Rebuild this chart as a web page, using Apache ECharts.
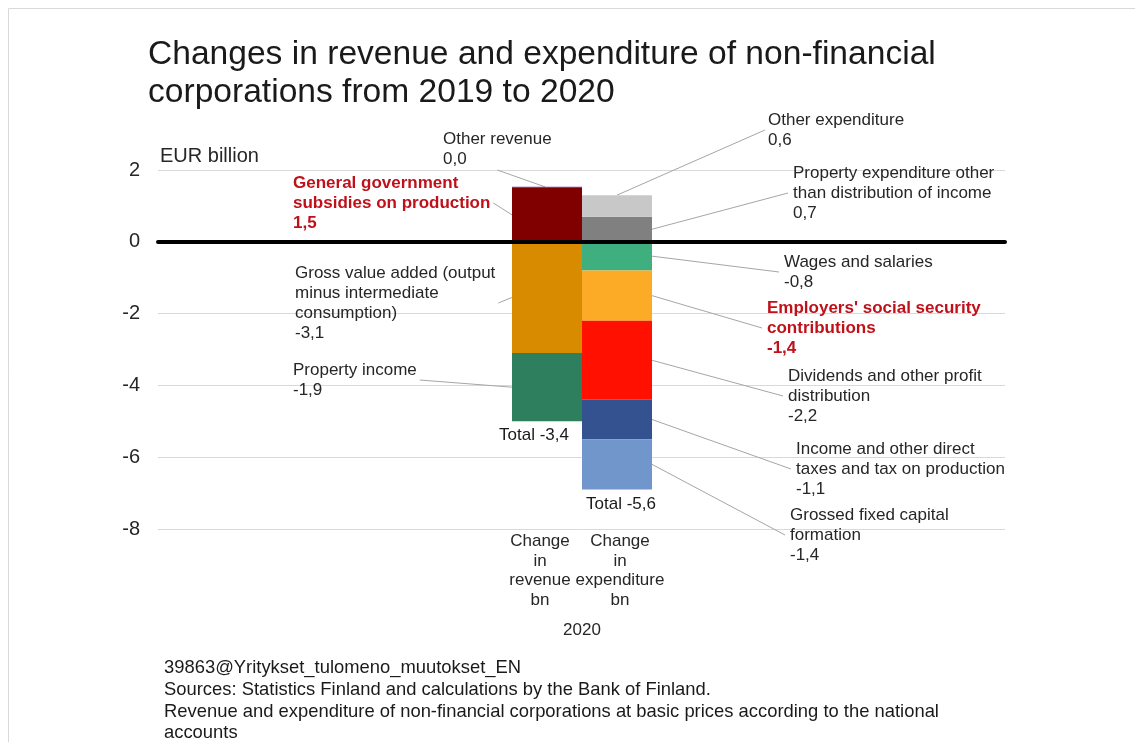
<!DOCTYPE html>
<html>
<head>
<meta charset="utf-8">
<script src="https://cdn.jsdelivr.net/npm/echarts@6/dist/echarts.min.js"></script>
<style>
html,body{margin:0;padding:0;background:#fff;}
#c{width:1135px;height:742px;}
</style>
</head>
<body>
<div id="c"></div>
<script>
// ---------- data ----------
const titleText = 'Changes in revenue and expenditure of non-financial\ncorporations from 2019 to 2020';
const unitLabel = 'EUR billion';
const yTicks = [-8, -6, -4, -2, 0, 2];
const categories = ['Change\nin\nrevenue\nbn', 'Change\nin\nexpenditure\nbn'];
const outerCategory = '2020';

const revenueItems = [
  'General government\nsubsidies on production',
  'Other revenue',
  'Gross value added (output\nminus intermediate\nconsumption)',
  'Property income'
];
const revenueValues = [1.5, 0.03, -3.1, -1.9];
const revenueColors = ['#800000', '#6f3c9c', '#d98b00', '#2e7f5e'];

const expenditureItems = [
  'Property expenditure other\nthan distribution of income',
  'Other expenditure',
  'Wages and salaries',
  "Employers' social security\ncontributions",
  'Dividends and other profit\ndistribution',
  'Income and other direct\ntaxes and tax on production',
  'Grossed fixed capital\nformation'
];
const expenditureValues = [0.7, 0.6, -0.8, -1.4, -2.2, -1.1, -1.4];
const expenditureColors = ['#808080', '#c8c8c8', '#3faf80', '#fbab25', '#ff1000', '#33528f', '#7196cb'];

const totals = [-3.4, -5.6];
const highlighted = ['General government\nsubsidies on production', "Employers' social security\ncontributions"];

const footerText = '39863@Yritykset_tulomeno_muutokset_EN\nSources: Statistics Finland and calculations by the Bank of Finland.\nRevenue and expenditure of non-financial corporations at basic prices according to the national\naccounts';

// ---------- label placement (annotation layout, pixels) ----------
const revenueLabelPos = [[293, 173], [443, 129], [295, 263], [293, 360]];
const revenueLeader = ['left', 'below', 'left', 'left'];
const expenditureLabelPos = [[793, 163], [768, 110], [784, 252], [767, 298], [788, 366], [796, 439], [790, 505]];
const expenditureLeader = ['right', 'top', 'right', 'right', 'right', 'right', 'right'];
const totalLabelOffset = [[-13, 0], [4, 0]];
const categoryLabelPadding = [[0, 14, 0, 0], [0, 0, 0, 6]];

// ---------- build ----------
const FONT = '"Liberation Sans", Arial, sans-serif';
const LABEL_SIZE = 17, LABEL_LH = 20;
const fmt = v => v.toFixed(1).replace('.', ',');

const measureCtx = document.createElement('canvas').getContext('2d');
function textWidth(lines, bold) {
  measureCtx.font = (bold ? 'bold ' : '') + LABEL_SIZE + 'px ' + FONT;
  return Math.max.apply(null, lines.map(l => measureCtx.measureText(l).width));
}

function makeSeries(name, value, catIndex, color, pos) {
  const isHi = highlighted.indexOf(name) >= 0;
  const data = ['-', '-'];
  data[catIndex] = value;
  return {
    type: 'bar',
    name: name,
    xAxisIndex: 1,
    yAxisIndex: 1,
    stack: 'all',
    barWidth: '100%',
    barCategoryGap: 0,
    data: data,
    itemStyle: { color: color },
    label: {
      show: true,
      formatter: p => name + '\n' + fmt(p.value),
      fontFamily: FONT,
      fontSize: LABEL_SIZE,
      lineHeight: LABEL_LH,
      color: isHi ? '#c0101a' : '#262626',
      fontWeight: isHi ? 'bold' : 'normal',
      align: 'left',
      verticalAlign: 'top'
    },
    labelLayout: { x: pos[0], y: pos[1], align: 'left', verticalAlign: 'top' },
    emphasis: { disabled: true },
    z: 3
  };
}

const series = [];
revenueItems.forEach((n, i) => series.push(makeSeries(n, revenueValues[i], 0, revenueColors[i], revenueLabelPos[i])));
expenditureItems.forEach((n, i) => series.push(makeSeries(n, expenditureValues[i], 1, expenditureColors[i], expenditureLabelPos[i])));

// leader lines: segment bounds from the stacked values (same-sign stacking)
const leaderData = [], leaderCfg = [];
[[revenueItems, revenueValues, revenueLabelPos, revenueLeader],
 [expenditureItems, expenditureValues, expenditureLabelPos, expenditureLeader]].forEach((grp, cat) => {
  let pos = 0, neg = 0;
  grp[1].forEach((v, i) => {
    let lo, hi;
    if (v >= 0) { lo = pos; hi = pos + v; pos = hi; } else { hi = neg; lo = neg + v; neg = lo; }
    leaderData.push([cat, lo, hi]);
    const lines = (grp[0][i] + '\n' + fmt(v)).split('\n');
    leaderCfg.push({
      pos: grp[2][i], mode: grp[3][i],
      w: textWidth(lines, highlighted.indexOf(grp[0][i]) >= 0),
      h: lines.length * LABEL_LH
    });
  });
});

series.push({
  type: 'custom',
  xAxisIndex: 1,
  yAxisIndex: 1,
  silent: true,
  z: 1,
  data: leaderData,
  renderItem: function (params, api) {
    const cfg = leaderCfg[params.dataIndex];
    const cat = api.value(0);
    const pLo = api.coord([cat, api.value(1)]);
    const pHi = api.coord([cat, api.value(2)]);
    const bw = api.size([1, 0])[0];
    const cx = pLo[0], left = cx - bw / 2, right = cx + bw / 2;
    const midY = (pLo[1] + pHi[1]) / 2;
    const lx = cfg.pos[0], ly = cfg.pos[1];
    let a, b;
    if (cfg.mode === 'right') { a = [right, midY]; b = [lx - 5, ly + cfg.h / 2]; }
    else if (cfg.mode === 'top') { a = [cx, pHi[1]]; b = [lx - 3, ly + cfg.h / 2]; }
    else if (cfg.mode === 'left') { a = [left, midY]; b = [lx + cfg.w + 3, ly + cfg.h / 2]; }
    else { a = [cx - 2, pHi[1]]; b = [lx + cfg.w / 2, ly + cfg.h + 1]; }
    return {
      type: 'polyline',
      shape: { points: [a, b] },
      style: { stroke: '#a6a6a6', lineWidth: 1, fill: null }
    };
  }
});

const negSum = arr => arr.filter(v => v < 0).reduce((a, b) => a + b, 0);
const bottoms = [negSum(revenueValues), negSum(expenditureValues)];
series.push({
  type: 'scatter',
  xAxisIndex: 1,
  yAxisIndex: 1,
  symbolSize: 0,
  itemStyle: { opacity: 1 },
  data: bottoms.map((b, i) => ({
    value: [i, b],
    label: { offset: totalLabelOffset[i], formatter: () => 'Total ' + fmt(totals[i]) }
  })),
  label: {
    show: true,
    position: 'bottom',
    distance: 6,
    fontFamily: FONT,
    fontSize: LABEL_SIZE,
    color: '#1a1a1a'
  },
  emphasis: { disabled: true },
  silent: true,
  z: 4
});

const yMin = yTicks[0], yMax = yTicks[yTicks.length - 1];
const option = {
  animation: false,
  backgroundColor: '#ffffff',
  title: [
    {
      text: titleText,
      left: 143, top: 31,
      textStyle: { fontFamily: FONT, fontSize: 33.6, fontWeight: 'normal', lineHeight: 38, color: '#1a1a1a' }
    },
    {
      text: footerText,
      left: 159, top: 652,
      textStyle: { fontFamily: FONT, fontSize: 18.4, fontWeight: 'normal', lineHeight: 21.8, color: '#1a1a1a' }
    }
  ],
  graphic: [
    { type: 'rect', shape: { x: 8.5, y: 8.5, width: 1200, height: 800 }, style: { fill: 'none', stroke: '#d9d9d9', lineWidth: 1 }, silent: true }
  ],
  grid: [
    { left: 158, right: 130, top: 170, bottom: 213 },
    { left: 512, width: 140, top: 170, bottom: 213 }
  ],
  xAxis: [
    {
      type: 'value', gridIndex: 0, min: 0, max: 1,
      axisLine: { show: true, onZero: true, lineStyle: { color: '#000', width: 4 } },
      axisTick: { show: false }, axisLabel: { show: false }, splitLine: { show: false },
      z: 10
    },
    {
      type: 'category', gridIndex: 1,
      data: categories.map((c, i) => ({ value: c, textStyle: { padding: categoryLabelPadding[i] } })),
      axisLine: { show: false, onZero: false }, axisTick: { show: false },
      axisLabel: { interval: 0, fontFamily: FONT, fontSize: 17, lineHeight: 19.5, color: '#262626', margin: 3 },
      name: outerCategory, nameLocation: 'middle', nameGap: 93,
      nameTextStyle: { fontFamily: FONT, fontSize: 17, color: '#262626' }
    }
  ],
  yAxis: [
    {
      type: 'value', gridIndex: 0, min: yMin, max: yMax, interval: 2,
      axisLine: { show: false }, axisTick: { show: false },
      axisLabel: { fontFamily: FONT, fontSize: 20, color: '#262626', margin: 18 },
      splitLine: { show: true, lineStyle: { color: '#d9d9d9', width: 1 } },
      name: unitLabel, nameLocation: 'end', nameGap: 4,
      nameTextStyle: { fontFamily: FONT, fontSize: 20, color: '#262626', align: 'left', verticalAlign: 'bottom', padding: [0, 0, 0, 2] }
    },
    { type: 'value', gridIndex: 1, min: yMin, max: yMax, show: false }
  ],
  series: series
};

const chart = echarts.init(document.getElementById('c'), null, { renderer: 'canvas' });
chart.setOption(option);
</script>
</body>
</html>
